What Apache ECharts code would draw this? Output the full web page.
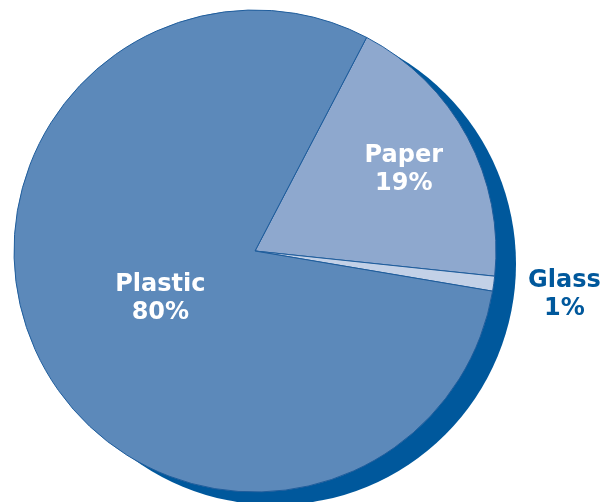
<!DOCTYPE html>
<html>
<head>
<meta charset="utf-8">
<script src="https://cdn.jsdelivr.net/npm/echarts@6/dist/echarts.min.js"></script>
<style>
html,body{margin:0;padding:0;background:#fff;}
#main{width:609px;height:502px;}
</style>
</head>
<body>
<div id="main"></div>
<script>
var categories = ['Paper', 'Glass', 'Plastic'];
var values = [19, 1, 80];
var sliceColors = ['#8ea8ce', '#c3d1e7', '#5c89ba'];
var labelColors = ['#ffffff', '#00589c', '#ffffff'];
// label offsets from the default inside position (px)
var labelShift = [[40, -23], [187, 27], [16, -7]];

var chart = echarts.init(document.getElementById('main'), null, {renderer: 'canvas'});
var data = categories.map(function (c, i) {
  return {
    name: c,
    value: values[i],
    itemStyle: {color: sliceColors[i]},
    label: {color: labelColors[i]}
  };
});
chart.setOption({
  animation: false,
  series: [
    {
      type: 'pie',
      silent: true,
      z: 1,
      center: [275, 264],
      radius: 241,
      label: {show: false},
      labelLine: {show: false},
      itemStyle: {color: '#00589c', borderWidth: 0},
      data: [{name: 'shadow', value: 1}]
    },
    {
      type: 'pie',
      z: 2,
      center: [255, 251],
      radius: 241,
      startAngle: 62.4,
      clockwise: true,
      itemStyle: {borderColor: '#1f5d9c', borderWidth: 1},
      label: {
        show: true,
        position: 'inside',
        formatter: '{b}\n{d}%',
        fontFamily: 'DejaVu Sans',
        fontWeight: 'bold',
        fontSize: 24,
        lineHeight: 28,
        align: 'center'
      },
      labelLine: {show: false},
      labelLayout: function (p) {
        var s = labelShift[p.dataIndex];
        return {dx: s[0], dy: s[1]};
      },
      emphasis: {disabled: true},
      data: data
    }
  ]
});
</script>
</body>
</html>
